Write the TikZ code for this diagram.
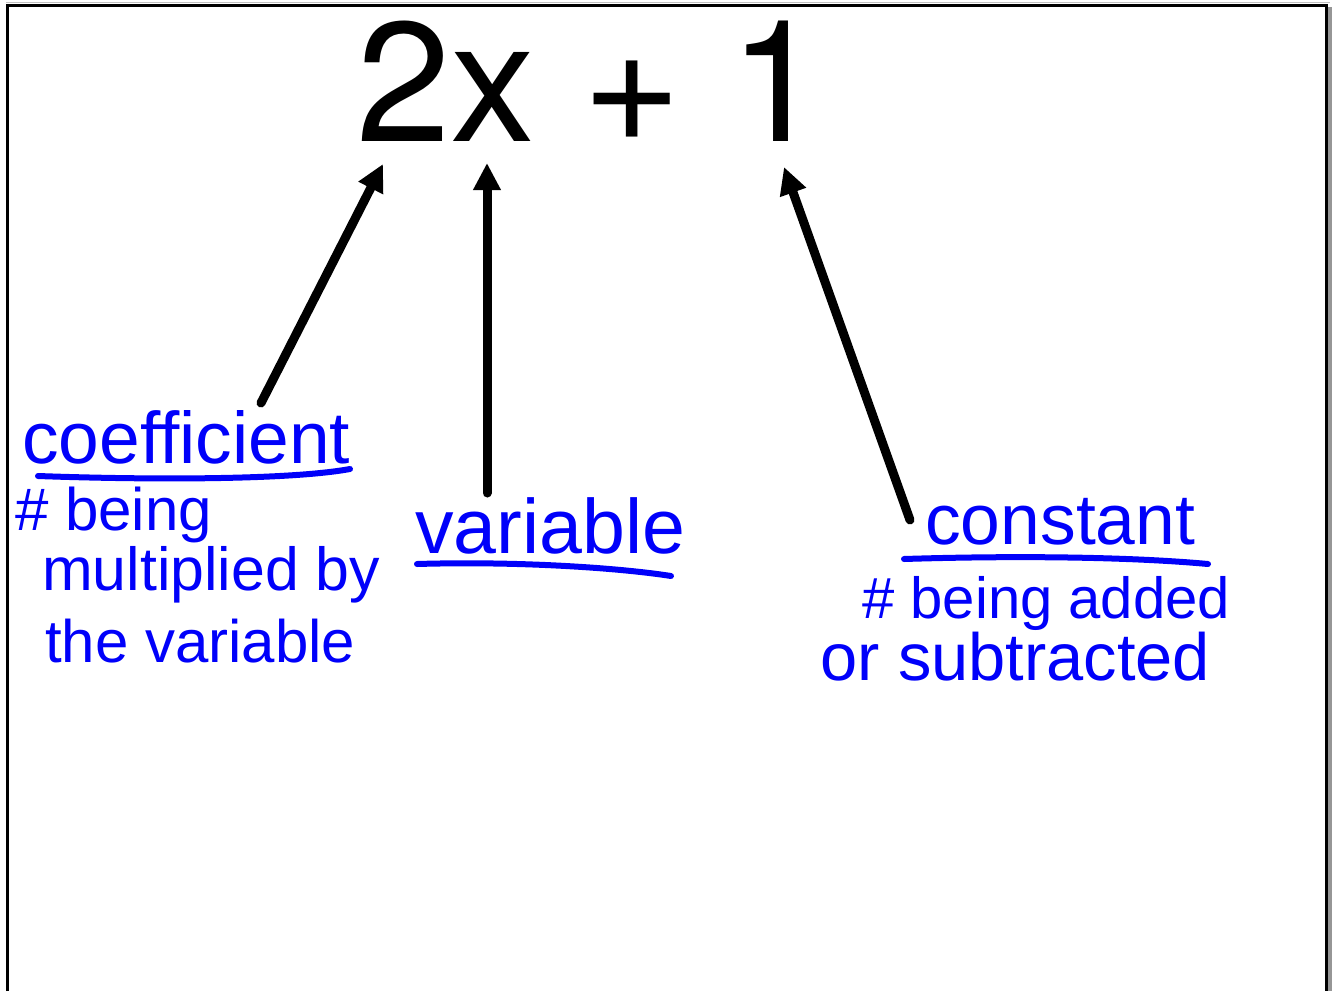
\documentclass[tikz,border=0pt]{standalone}
\usepackage{fontspec}
\setmainfont{Liberation Sans}
\newfontfamily\exprfont{TeX Gyre Heros}
\usetikzlibrary{arrows.meta}
\definecolor{ink}{RGB}{0,0,250}
\definecolor{shadow}{RGB}{150,150,150}
\newcommand{\hw}[2]{\resizebox{#1pt}{!}{#2}}
\tikzset{
  frame/.style={line width=3pt,black},
  frameshadow/.style={line width=4pt,shadow},
  pointer/.style={line width=9pt,black,-{Triangle[length=27pt,width=26pt]}},
  label/.style={text=ink,inner sep=0pt,anchor=base west,font=\fontsize{60}{60}\selectfont},
  uline/.style={ink,line width=6pt,line cap=round},
  expr/.style={inner sep=0pt,anchor=base west,font=\exprfont\fontsize{170}{170}\selectfont}
}
\begin{document}
\begin{tikzpicture}[x=1pt,y=-1pt]
\useasboundingbox (0,0) rectangle (1336,991);
\fill[white] (0,0) rectangle (1336,991);
% frame
\draw[line width=1pt,shadow!60] (6,2.5) -- (1330,2.5);
\draw[frameshadow] (1330,7) -- (1330,991);
\draw[frame] (7.5,991) -- (7.5,5) -- (1326.5,5) -- (1326.5,991);
% expression
\node[expr] (expr) at (356,141) {2x + 1};
\coordinate (t2) at (383,164);
\coordinate (tx) at (487,163);
\coordinate (t1) at (784,167);
% labels
\node[label] (coef) at (22,463) {\hw{328}{coefficient}};
\node[label] (cd1) at (15,530) {\hw{197}{\# being}};
\node[label] (cd2) at (42,590) {\hw{338}{multiplied by}};
\node[label] (cd3) at (45,662) {\hw{310}{the variable}};
\node[label] (var) at (415,553) {\hw{270}{variable}};
\node[label] (cons) at (925,544) {\hw{270}{constant}};
\node[label] (kd1) at (862,618) {\hw{368}{\# being added}};
\node[label] (kd2) at (820,680) {\hw{390}{or subtracted}};
% underlines
\coordinate (u1a) at (38,476); \coordinate (u1b) at (350,469);
\draw[uline] (u1a) .. controls (150,480) and (290,480) .. (u1b);
\coordinate (u2a) at (417,564); \coordinate (u2b) at (671,576);
\draw[uline] (u2a) .. controls (520,561) and (620,568) .. (u2b);
\coordinate (u3a) at (904,559); \coordinate (u3b) at (1208,564);
\draw[uline] (u3a) .. controls (1000,556) and (1120,556) .. (u3b);
% arrows
\coordinate (s1) at (261,403);
\coordinate (s2) at (487,493);
\coordinate (s3) at (910,520);
\draw[pointer,line cap=round] (s1) -- (t2);
\draw[pointer,line cap=round] (s2) -- (tx);
\draw[pointer,line cap=round] (s3) -- (t1);
\end{tikzpicture}
\end{document}
